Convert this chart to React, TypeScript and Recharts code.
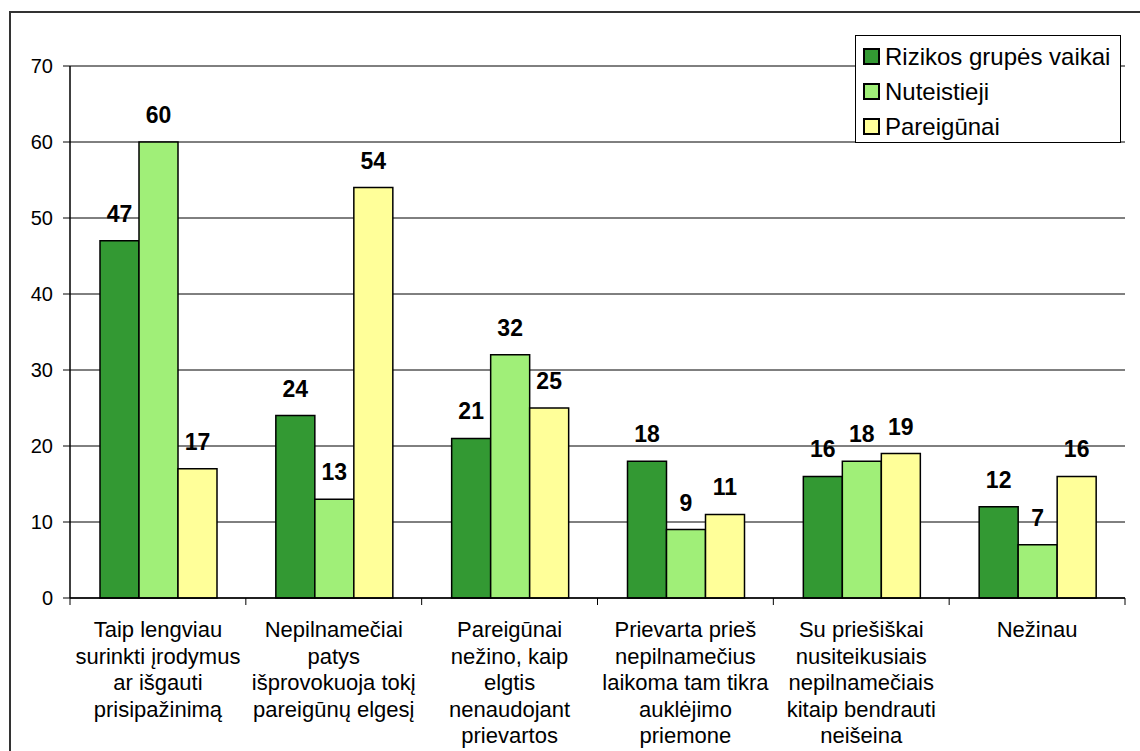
import React from 'react'
import { BarChart, Bar, XAxis, YAxis, CartesianGrid, LabelList } from 'recharts'

const categories: string[][] = [
  ['Taip lengviau', 'surinkti įrodymus', 'ar išgauti', 'prisipažinimą'],
  ['Nepilnamečiai', 'patys', 'išprovokuoja tokį', 'pareigūnų elgesį'],
  ['Pareigūnai', 'nežino, kaip', 'elgtis', 'nenaudojant', 'prievartos'],
  ['Prievarta prieš', 'nepilnamečius', 'laikoma tam tikra', 'auklėjimo', 'priemone'],
  ['Su priešiškai', 'nusiteikusiais', 'nepilnamečiais', 'kitaip bendrauti', 'neišeina'],
  ['Nežinau'],
]

const rizikos = [47, 24, 21, 18, 16, 12]
const nuteistieji = [60, 13, 32, 9, 18, 7]
const pareigunai = [17, 54, 25, 11, 19, 16]

const yTicks = [0, 10, 20, 30, 40, 50, 60, 70]

const series = [
  { key: 'rizikos', name: 'Rizikos grupės vaikai', color: '#339933' },
  { key: 'nuteistieji', name: 'Nuteistieji', color: '#A0EF78' },
  { key: 'pareigunai', name: 'Pareigūnai', color: '#FFFF99' },
]

const data = categories.map((lines, i) => ({
  name: lines.join(' '),
  lines,
  rizikos: rizikos[i],
  nuteistieji: nuteistieji[i],
  pareigunai: pareigunai[i],
}))

const W = 1140
const H = 751
const M = { top: 66, right: 15, bottom: 10, left: 10 }
const Y_W = 60
const X_H = H - M.top - M.bottom - 532
const band = (W - M.left - Y_W - M.right) / categories.length

const FONT = 'Arial, "Liberation Sans", sans-serif'

const CategoryTick = (props: any) => {
  const { x, y, index } = props
  const lines: string[] = categories[index] || []
  const last = index === categories.length - 1
  return (
    <g>
      <line x1={x - band / 2} x2={x - band / 2} y1={y} y2={y + 7} stroke="#000" />
      {last && <line x1={x + band / 2} x2={x + band / 2} y1={y} y2={y + 7} stroke="#000" />}
      <text x={x} y={y + 39} textAnchor="middle" fontSize={22} fontFamily={FONT} fill="#000">
        {lines.map((l, i) => (
          <tspan key={i} x={x} dy={i === 0 ? 0 : 26.5}>
            {l}
          </tspan>
        ))}
      </text>
    </g>
  )
}

const LegendBox = () => (
  <div
    style={{
      position: 'absolute',
      left: 855,
      top: 35,
      width: 266,
      height: 108,
      boxSizing: 'border-box',
      border: '1.5px solid #000',
      background: '#fff',
      padding: '3px 0 0 7px',
      fontFamily: FONT,
      fontSize: 24,
      color: '#000',
    }}
  >
    {series.map((s) => (
      <div key={s.key} style={{ display: 'flex', alignItems: 'center', height: 35 }}>
        <span
          style={{
            display: 'inline-block',
            width: 17,
            height: 17,
            boxSizing: 'border-box',
            border: '2px solid #000',
            background: s.color,
            marginRight: 5,
          }}
        />
        <span>{s.name}</span>
      </div>
    ))}
  </div>
)

export default function App() {
  return (
    <div style={{ position: 'absolute', left: 0, top: 0, width: W, height: H, background: '#fff', overflow: 'hidden' }}>
      <div
        style={{
          position: 'absolute',
          left: 9,
          top: 11,
          width: W,
          height: H,
          borderLeft: '2px solid #333',
          borderTop: '2px solid #333',
        }}
      />
      <BarChart
        width={W}
        height={H}
        data={data}
        margin={M}
        barCategoryGap={30}
        barGap={0}
        style={{ position: 'absolute', left: 0, top: 0 }}
      >
        <CartesianGrid horizontal vertical={false} stroke="#000" strokeWidth={1} />
        <XAxis
          dataKey="name"
          height={X_H}
          interval={0}
          tickLine={false}
          tickSize={0}
          tickMargin={0}
          axisLine={{ stroke: '#000', strokeWidth: 1.5 }}
          tick={<CategoryTick />}
        />
        <XAxis
          xAxisId="top"
          orientation="top"
          dataKey="name"
          height={0}
          tick={false}
          tickLine={false}
          axisLine={{ stroke: '#888', strokeWidth: 2 }}
        />
        <YAxis
          width={Y_W}
          domain={[0, 70]}
          ticks={yTicks}
          interval={0}
          tickSize={7}
          tickMargin={10}
          axisLine={{ stroke: '#000', strokeWidth: 1.5 }}
          tickLine={{ stroke: '#000' }}
          tick={{ fill: '#000', fontSize: 20, fontFamily: FONT }}
        />
        <YAxis
          yAxisId="right"
          orientation="right"
          width={0}
          tick={false}
          tickLine={false}
          axisLine={{ stroke: '#888', strokeWidth: 2 }}
        />
        {series.map((s) => (
          <Bar
            key={s.key}
            dataKey={s.key}
            name={s.name}
            fill={s.color}
            stroke="#000"
            strokeWidth={1.5}
            isAnimationActive={false}
          >
            <LabelList
              dataKey={s.key}
              position="top"
              offset={19}
              style={{ fontSize: 23, fontWeight: 'bold', fontFamily: FONT, fill: '#000' }}
            />
          </Bar>
        ))}
      </BarChart>
      <LegendBox />
    </div>
  )
}
